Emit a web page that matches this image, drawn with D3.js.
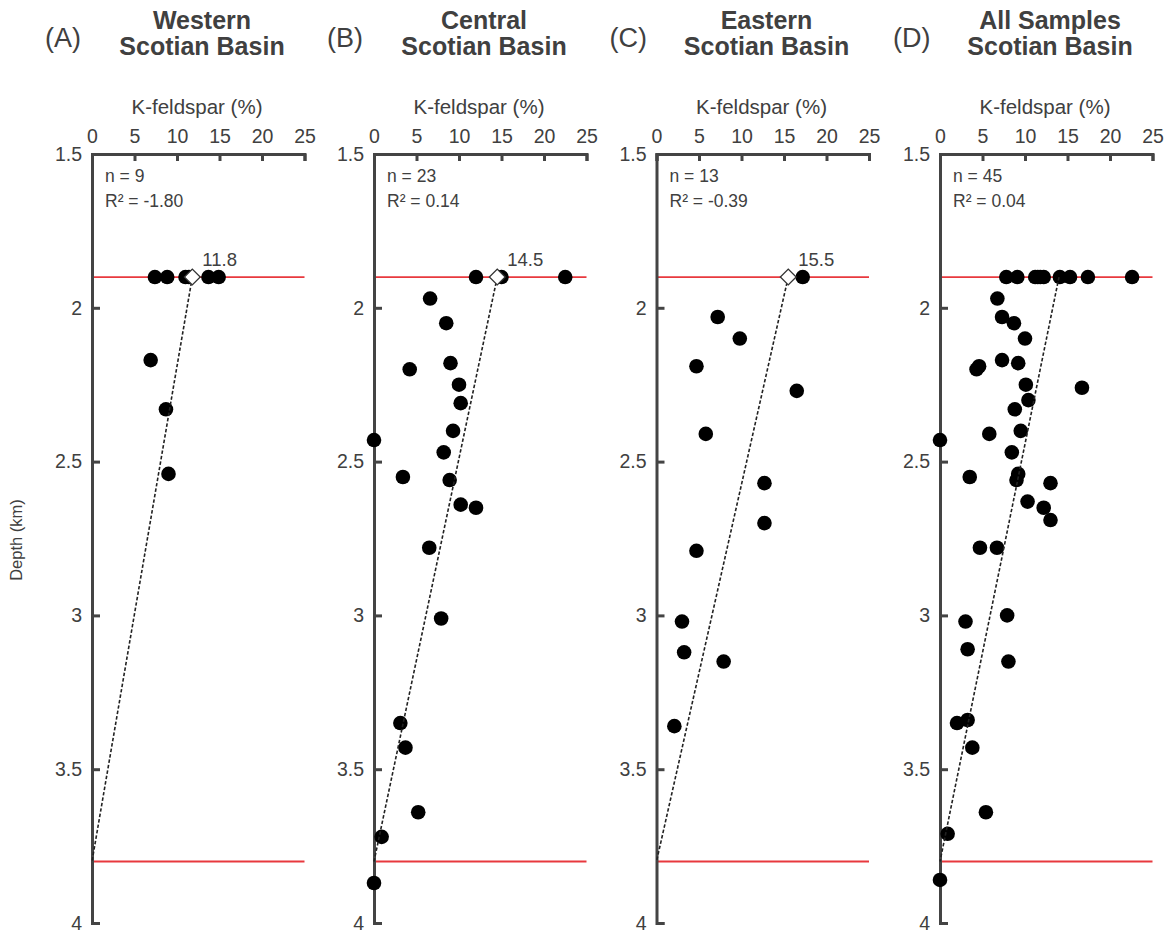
<!DOCTYPE html>
<html>
<head>
<meta charset="utf-8">
<script src="https://cdn.jsdelivr.net/npm/d3@7"></script>
<style>
  body { margin: 0; background: #fff; }
</style>
</head>
<body>
<div class="chart-div"></div>
<script>
var width = 1174;
var height = 934;

// ---- data
var panelLetters = ["(A)", "(B)", "(C)", "(D)"];
var titleLine1 = ["Western", "Central", "Eastern", "All Samples"];
var titleLine2 = ["Scotian Basin", "Scotian Basin", "Scotian Basin", "Scotian Basin"];
var nLabels = ["n = 9", "n = 23", "n = 13", "n = 45"];
var r2Labels = ["R\u00b2 = -1.80", "R\u00b2 = 0.14", "R\u00b2 = -0.39", "R\u00b2 = 0.04"];
var meanAtTop = [11.8, 14.5, 15.5, 14.0];
var meanLabels = ["11.8", "14.5", "15.5", ""];
var showDiamond = [true, true, true, false];
var depthTicks = [1.5, 2, 2.5, 3, 3.5, 4];
var kfsTicks = [0, 5, 10, 15, 20, 25];
var boundaryDepths = [1.9, 3.8];

var westKfs   = [7.4, 8.85, 11.0, 11.4, 13.7, 14.9, 6.9, 8.7, 9.0];
var westDepth = [1.9, 1.9, 1.9, 1.9, 1.9, 1.9, 2.17, 2.33, 2.54];

var centralKfs   = [12.0, 15.0, 22.5, 6.6, 8.5, 4.2, 9.0, 10.0, 10.2, 9.3, 0, 8.2,
                    3.4, 8.9, 10.2, 12.0, 6.5, 7.9, 3.1, 3.7, 5.2, 0.9, 0];
var centralDepth = [1.9, 1.9, 1.9, 1.97, 2.05, 2.20, 2.18, 2.25, 2.31, 2.40, 2.43, 2.47,
                    2.55, 2.56, 2.64, 2.65, 2.78, 3.01, 3.35, 3.43, 3.64, 3.72, 3.87];

var easternKfs   = [17.2, 7.2, 9.8, 4.7, 16.5, 5.8, 12.7, 12.7, 4.7, 3.0, 3.25, 7.9, 2.1];
var easternDepth = [1.9, 2.03, 2.10, 2.19, 2.27, 2.41, 2.57, 2.70, 2.79, 3.02, 3.12, 3.15, 3.36];

var allKfs   = [7.8, 9.1, 11.2, 11.5, 11.8, 12.2, 14.1, 15.3, 17.4, 22.6,
                6.75, 7.3, 8.7, 10.0, 4.6, 4.3, 7.3, 9.2, 10.1, 16.7, 10.4, 8.8,
                5.8, 9.5, 0, 8.45, 3.5, 9.2, 9.0, 13.0, 10.3, 12.2, 13.0, 4.7, 6.7,
                7.9, 3.0, 3.25, 8.05, 3.25, 2.0, 3.8, 5.4, 0.9, 0];
var allDepth = [1.9, 1.9, 1.9, 1.9, 1.9, 1.9, 1.9, 1.9, 1.9, 1.9,
                1.97, 2.03, 2.05, 2.10, 2.19, 2.20, 2.17, 2.18, 2.25, 2.26, 2.30, 2.33,
                2.41, 2.40, 2.43, 2.47, 2.55, 2.54, 2.56, 2.57, 2.63, 2.65, 2.69, 2.78, 2.78,
                3.00, 3.02, 3.11, 3.15, 3.34, 3.35, 3.43, 3.64, 3.71, 3.86];

var panelKfs = [westKfs, centralKfs, easternKfs, allKfs];
var panelDepth = [westDepth, centralDepth, easternDepth, allDepth];

// ---- layout
var panelX0 = [92, 374, 656.5, 940];
var panelW = 212.5;
var plotTop = 154;
var plotBottom = 923;
var axisColor = "#444";
var textColor = "#404040";
var fontFam = "Liberation Sans, Arial, sans-serif";

var svg = d3.select("div.chart-div")
    .append("svg")
    .attr("width", width)
    .attr("height", height);

var y = d3.scaleLinear().domain([1.5, 4]).range([plotTop, plotBottom]);

svg.append("text")
    .attr("transform", "translate(22,540) rotate(-90)")
    .attr("text-anchor", "middle")
    .attr("font-family", fontFam)
    .attr("font-size", 16.5)
    .style("fill", textColor)
    .text("Depth (km)");

for (var p = 0; p < 4; p++) {

    var x0 = panelX0[p];
    var x = d3.scaleLinear().domain([0, 25]).range([x0, x0 + panelW]);
    var g = svg.append("g");

    // titles
    g.append("text")
        .attr("x", x0 - 47)
        .attr("y", 47)
        .attr("font-family", fontFam)
        .attr("font-size", 27)
        .style("fill", textColor)
        .text(panelLetters[p]);

    g.append("text")
        .attr("x", x0 + 110)
        .attr("y", 29)
        .attr("text-anchor", "middle")
        .attr("font-family", fontFam)
        .attr("font-size", 25)
        .attr("font-weight", "bold")
        .style("fill", textColor)
        .text(titleLine1[p]);

    g.append("text")
        .attr("x", x0 + 110)
        .attr("y", 55)
        .attr("text-anchor", "middle")
        .attr("font-family", fontFam)
        .attr("font-size", 25)
        .attr("font-weight", "bold")
        .style("fill", textColor)
        .text(titleLine2[p]);

    g.append("text")
        .attr("x", x0 + 105)
        .attr("y", 114)
        .attr("text-anchor", "middle")
        .attr("font-family", fontFam)
        .attr("font-size", 20.5)
        .style("fill", textColor)
        .text("K-feldspar (%)");

    // red boundary lines
    g.selectAll("line.bound")
        .data(boundaryDepths)
        .enter()
        .append("line")
        .attr("class", "bound")
        .attr("x1", x(0))
        .attr("x2", x(25))
        .attr("y1", function (d) { return y(d); })
        .attr("y2", function (d) { return y(d); })
        .attr("stroke", "#e8393e")
        .attr("stroke-width", 1.8);

    // axes
    var topAxis = g.append("g")
        .attr("transform", "translate(0," + plotTop + ")")
        .call(d3.axisTop(x).tickValues(kfsTicks).tickFormat(d3.format("d"))
            .tickSizeInner(-7).tickSizeOuter(-7).tickPadding(11));

    var leftAxis = g.append("g")
        .attr("transform", "translate(" + x0 + ",0)")
        .call(d3.axisLeft(y).tickValues(depthTicks).tickFormat(function (d) { return d; })
            .tickSizeInner(-8).tickSizeOuter(-8).tickPadding(10));

    [topAxis, leftAxis].forEach(function (a) {
        a.select(".domain").attr("stroke", axisColor).attr("stroke-width", 3).attr("fill", "none");
        a.selectAll(".tick line").attr("stroke", axisColor).attr("stroke-width", 3);
        a.selectAll(".tick text")
            .attr("font-family", fontFam)
            .attr("font-size", 19.5)
            .attr("fill", textColor);
    });

    // n and R2
    g.append("text")
        .attr("x", x0 + 13)
        .attr("y", 182)
        .attr("font-family", fontFam)
        .attr("font-size", 17.5)
        .style("fill", textColor)
        .text(nLabels[p]);

    g.append("text")
        .attr("x", x0 + 13)
        .attr("y", 207)
        .attr("font-family", fontFam)
        .attr("font-size", 17.5)
        .style("fill", textColor)
        .text(r2Labels[p]);

    // points
    var pts = panelKfs[p].map(function (v, i) { return [v, panelDepth[p][i]]; });

    g.selectAll("circle.pt")
        .data(pts)
        .enter()
        .append("circle")
        .attr("class", "pt")
        .attr("cx", function (d) { return x(d[0]); })
        .attr("cy", function (d) { return y(d[1]); })
        .attr("r", 7.3)
        .attr("fill", "#000");

    // dashed trend line from mean at top boundary to zero at lower boundary
    var trend = [[meanAtTop[p], boundaryDepths[0]], [0, boundaryDepths[1]]];
    g.append("path")
        .attr("d", d3.line().x(function (d) { return x(d[0]); }).y(function (d) { return y(d[1]); })(trend))
        .attr("fill", "none")
        .attr("stroke", "#222")
        .attr("stroke-width", 1.6)
        .style("stroke-dasharray", "3.5,2");

    if (showDiamond[p]) {
        g.append("path")
            .attr("d", d3.symbol().type(d3.symbolSquare).size(125)())
            .attr("transform", "translate(" + x(meanAtTop[p]) + "," + y(boundaryDepths[0]) + ") rotate(45)")
            .attr("fill", "#fff")
            .attr("stroke", "#333")
            .attr("stroke-width", 1.3);

        g.append("text")
            .attr("x", x(meanAtTop[p]) + 10)
            .attr("y", y(boundaryDepths[0]) - 11)
            .attr("font-family", fontFam)
            .attr("font-size", 18.5)
            .style("fill", textColor)
            .text(meanLabels[p]);
    }
}
</script>
</body>
</html>
